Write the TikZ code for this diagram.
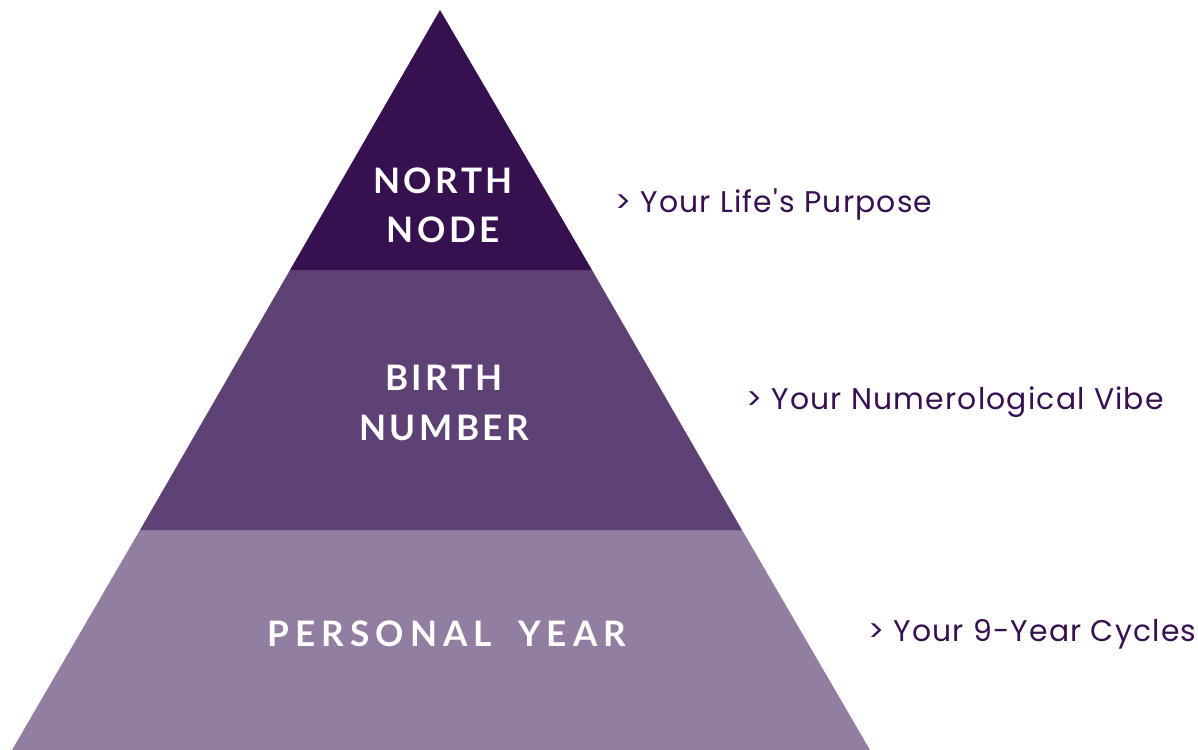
\documentclass[tikz,border=0pt]{standalone}
\usepackage{fontspec}
\newfontfamily\tierfont[LetterSpace=10]{Lato}
\newfontfamily\widetierfont[LetterSpace=17]{Lato}
\newfontfamily\notefont[LetterSpace=4]{Poppins}
\definecolor{topband}{HTML}{36104F}
\definecolor{midband}{HTML}{5F4275}
\definecolor{lowband}{HTML}{927EA0}
\definecolor{notetext}{HTML}{36104F}
\tikzset{
  tier/.style={text=white, font=\tierfont\bfseries\fontsize{20}{30}\selectfont, align=center, inner sep=0pt},
  note/.style={text=notetext, font=\notefont\fontsize{17}{20}\selectfont, anchor=west, inner sep=0pt}
}
\begin{document}
\begin{tikzpicture}[x=0.02cm, y=-0.02cm]
  \useasboundingbox (0,0) rectangle (1198,750);
  % pyramid bands
  \fill[lowband] (140,530) -- (742,530) -- (870,750) -- (12,750) -- cycle;
  \fill[midband] (290,270) -- (592,270) -- (742,530) -- (140,530) -- cycle;
  \fill[topband] (440,10) -- (592,270) -- (290,270) -- cycle;
  % labels
  \node[tier] (north) at (443,205) {NORTH\\[-2pt]NODE};
  \node[tier] (birth) at (444,403) {BIRTH\\[-2pt]NUMBER};
  \node[tier, font=\widetierfont\bfseries\fontsize{20}{30}\selectfont] (personal) at (447,634) {PERSONAL\hspace{0.75em}YEAR};
  % notes
  \node[note] (purpose) at (615,204) {> Your Life's Purpose};
  \node[note] (vibe) at (746,402) {> Your Numerological Vibe};
  \node[note] (cycles) at (868,634) {> Your 9-Year Cycles};
\end{tikzpicture}
\end{document}
